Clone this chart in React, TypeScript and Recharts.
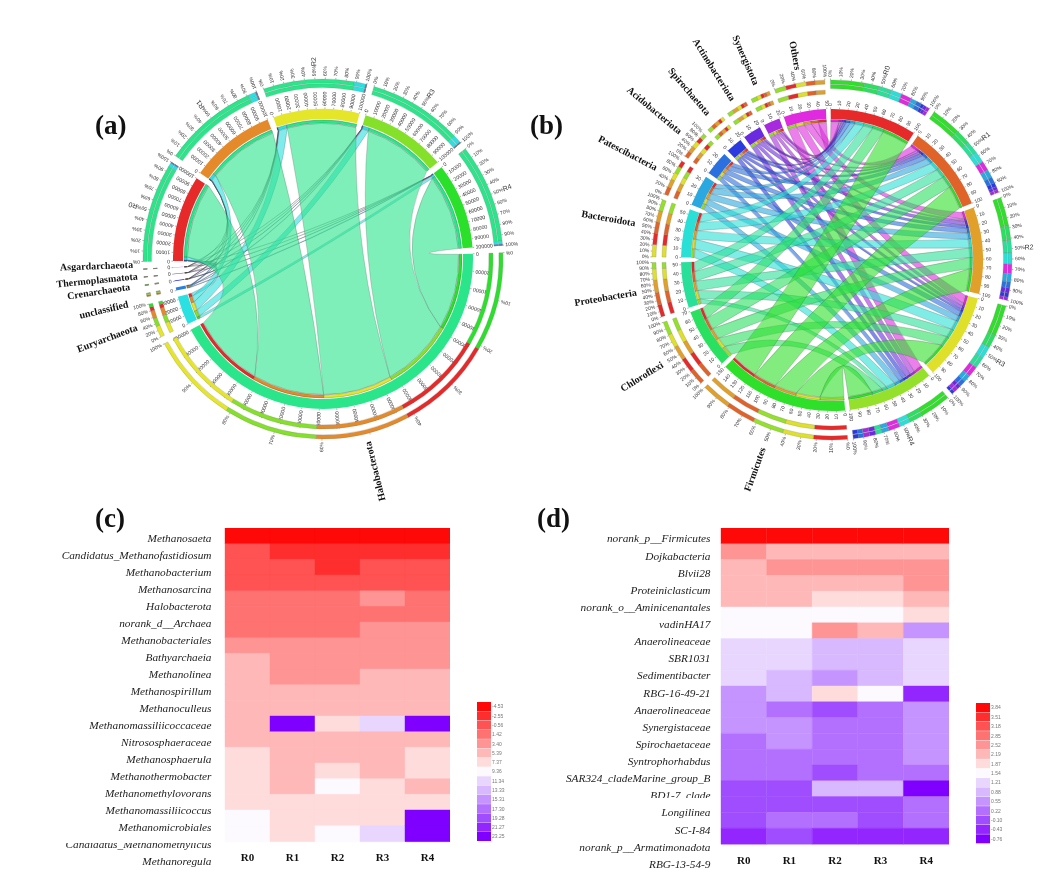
import React from 'react';
import { PieChart, Pie, Cell, BarChart, Bar, XAxis, YAxis } from 'recharts';

const samples = ['R0', 'R1', 'R2', 'R3', 'R4'];

// panel (a): archaeal phyla vs samples
const archaeaPhyla = ['Halobacterota', 'Euryarchaeota', 'unclassified', 'Crenarchaeota', 'Thermoplasmatota', 'Asgardarchaeota'];
const archaeaColors = ['#2ae58a', '#2ae0e0', '#2a7ee0', '#2a2ae0', '#8a2ae0', '#e02ae0'];
const archaeaSampleColors = ['#e62a2a', '#e58a2a', '#e5e52a', '#85e02a', '#2ae02a'];
const archaeaR0 = [94980, 4000, 700, 200, 80, 40];
const archaeaR1 = [91380, 7500, 800, 200, 80, 40];
const archaeaR2 = [87980, 11000, 700, 200, 80, 40];
const archaeaR3 = [90980, 8000, 700, 200, 80, 40];
const archaeaR4 = [95980, 3000, 700, 200, 80, 40];
const archaeaNameAngles = [76, 159.6, 166.7, 171.5, 174.4, 178];
const archaeaNameRadii = [188, 198, 200, 195, 186, 190];

// panel (b): bacterial phyla vs samples
const bacteriaPhyla = ['Firmicutes', 'Chloroflexi', 'Proteobacteria', 'Bacteroidota', 'Patescibacteria', 'Acidobacteriota', 'Spirochaetota', 'Actinobacteriota', 'Synergistota', 'Others'];
const bacteriaColors = ['#2fe02a', '#2ae060', '#2adf9a', '#2adfd5', '#2aa8df', '#2a70df', '#2a3adf', '#6a2adf', '#a82adf', '#df2adf'];
const bacteriaSampleColors = ['#e62a2a', '#e0642a', '#e0a02a', '#dfe02a', '#95e02a'];
const bacteriaR0 = [33, 14, 12, 11, 6, 5, 3, 3, 3, 10];
const bacteriaR1 = [29, 15, 12, 11, 8, 6, 4, 3, 3, 9];
const bacteriaR2 = [28, 14, 12, 11, 8, 6, 4, 5, 3, 9];
const bacteriaR3 = [30, 13, 11, 12, 7, 6, 3, 4, 4, 10];
const bacteriaR4 = [30, 13, 6, 11, 7, 5, 5, 6, 6, 11];
const bacteriaNameRadii = [200, 199, 198, 200, 198, 198, 191, 188, 191, 193];

// panels (c) and (d): heatmaps
const levelColors = ['#ff0808', '#ff2e2e', '#ff5252', '#ff7272', '#ff9494', '#ffb8b8', '#ffdcdc', '#fcfaff', '#e8d6ff', '#d8b8ff', '#c594ff', '#b370ff', '#a04dff', '#9326ff', '#7f00ff'];
const methanogenLegend = [-4.53, -2.55, -0.56, 1.42, 3.4, 5.39, 7.37, 9.36, 11.34, 13.33, 15.31, 17.3, 19.28, 21.27, 23.25];
const methanogenNames = ['Methanosaeta', 'Candidatus_Methanofastidiosum', 'Methanobacterium', 'Methanosarcina', 'Halobacterota', 'norank_d__Archaea', 'Methanobacteriales', 'Bathyarchaeia', 'Methanolinea', 'Methanospirillum', 'Methanoculleus', 'Methanomassiliicoccaceae', 'Nitrososphaeraceae', 'Methanosphaerula', 'Methanothermobacter', 'Methanomethylovorans', 'Methanomassiliicoccus', 'Methanomicrobiales', 'Candidatus_Methanomethylicus', 'Methanoregula'];
const methanogenValues = [
  [-4.53, -4.53, -4.53, -4.53, -4.53],
  [-0.56, -2.55, -2.55, -2.55, -2.55],
  [-0.56, -0.56, -2.55, -0.56, -0.56],
  [-0.56, -0.56, -0.56, -0.56, -0.56],
  [1.42, 1.42, 1.42, 3.4, 1.42],
  [1.42, 1.42, 1.42, 1.42, 1.42],
  [1.42, 1.42, 1.42, 3.4, 3.4],
  [3.4, 3.4, 3.4, 3.4, 3.4],
  [5.39, 3.4, 3.4, 3.4, 3.4],
  [5.39, 3.4, 3.4, 5.39, 5.39],
  [5.39, 5.39, 5.39, 5.39, 5.39],
  [5.39, 5.39, 5.39, 5.39, 5.39],
  [5.39, 23.25, 7.37, 11.34, 23.25],
  [5.39, 5.39, 5.39, 5.39, 5.39],
  [7.37, 5.39, 5.39, 5.39, 7.37],
  [7.37, 5.39, 7.37, 5.39, 7.37],
  [7.37, 5.39, 9.36, 7.37, 5.39],
  [7.37, 7.37, 7.37, 7.37, 7.37],
  [9.36, 7.37, 7.37, 7.37, 23.25],
  [9.36, 7.37, 9.36, 11.34, 23.25],
];
const bacteriaLegend = [3.84, 3.51, 3.18, 2.85, 2.52, 2.19, 1.87, 1.54, 1.21, 0.88, 0.55, 0.22, -0.1, -0.43, -0.76];
const bacteriaNames = ['norank_p__Firmicutes', 'Dojkabacteria', 'Blvii28', 'Proteiniclasticum', 'norank_o__Aminicenantales', 'vadinHA17', 'Anaerolineaceae', 'SBR1031', 'Sedimentibacter', 'RBG-16-49-21', 'Anaerolineaceae', 'Synergistaceae', 'Spirochaetaceae', 'Syntrophorhabdus', 'SAR324_cladeMarine_group_B', 'BD1-7_clade', 'Longilinea', 'SC-I-84', 'norank_p__Armatimonadota', 'RBG-13-54-9'];
const bacteriaValues = [
  [3.84, 3.84, 3.84, 3.84, 3.84],
  [2.52, 2.19, 2.19, 2.19, 2.19],
  [2.19, 2.52, 2.52, 2.52, 2.52],
  [2.19, 2.19, 2.19, 2.19, 2.52],
  [2.19, 2.19, 1.87, 1.87, 2.19],
  [1.54, 1.54, 1.54, 1.54, 1.87],
  [1.54, 1.54, 2.52, 2.19, 0.55],
  [1.21, 1.21, 0.88, 0.88, 1.21],
  [1.21, 1.21, 0.88, 0.88, 1.21],
  [1.21, 0.88, 0.55, 0.88, 1.21],
  [0.55, 0.88, 1.87, 1.54, -0.43],
  [0.55, 0.22, -0.1, 0.22, 0.55],
  [0.55, 0.55, 0.22, 0.22, 0.55],
  [0.22, 0.55, 0.22, 0.22, 0.55],
  [0.22, 0.22, 0.22, 0.22, 0.55],
  [0.22, 0.22, -0.1, 0.22, 0.22],
  [-0.1, -0.1, 0.88, 0.88, -0.76],
  [-0.1, -0.1, -0.1, -0.1, 0.22],
  [-0.1, 0.22, 0.22, -0.1, 0.22],
  [-0.43, -0.1, -0.43, -0.43, -0.43],
];

const SERIF = '"Liberation Serif", serif';
const SANS = '"Liberation Sans", sans-serif';

const sum = (xs: number[]) => xs.reduce((a, b) => a + b, 0);
const rad = (deg: number) => (deg * Math.PI) / 180;

interface Sector {
  name: string;
  kind: 'phylum' | 'sample';
  index: number;
  color: string;
  total: number;
  start: number;
  end: number;
}

interface Flow {
  color: string;
  sampleStart: number;
  sampleEnd: number;
  phylumStart: number;
  phylumEnd: number;
  value: number;
}

// angles are screen degrees, clockwise from 3 o'clock
function buildChord(phyla: string[], colors: string[], sampleColors: string[], rows: number[][], gap: number, startAngle: number) {
  const phylumTotals = phyla.map((_, j) => sum(rows.map((r) => r[j])));
  const sampleTotals = rows.map(sum);
  const perUnit = (360 - gap * (phyla.length + samples.length)) / (sum(phylumTotals) + sum(sampleTotals));
  const sectors: Sector[] = [];
  let cursor = startAngle;
  phyla.forEach((name, j) => {
    const end = cursor + phylumTotals[j] * perUnit;
    sectors.push({ name, kind: 'phylum', index: j, color: colors[j], total: phylumTotals[j], start: cursor, end });
    cursor = end + gap;
  });
  samples.forEach((name, i) => {
    const end = cursor + sampleTotals[i] * perUnit;
    sectors.push({ name, kind: 'sample', index: i, color: sampleColors[i], total: sampleTotals[i], start: cursor, end });
    cursor = end + gap;
  });

  // inside a sample: last phylum first. inside a phylum: last sample first.
  const flows: Flow[] = [];
  const sampleCursor = sectors.filter((s) => s.kind === 'sample').map((s) => s.start);
  const samplePos: number[][] = rows.map((r, i) => {
    const pos: number[] = [];
    for (let j = phyla.length - 1; j >= 0; j--) {
      pos[j] = sampleCursor[i];
      sampleCursor[i] += r[j] * perUnit;
    }
    return pos;
  });
  phyla.forEach((_, j) => {
    let c = sectors[j].start;
    for (let i = samples.length - 1; i >= 0; i--) {
      const w = rows[i][j] * perUnit;
      flows.push({
        color: colors[j],
        sampleStart: samplePos[i][j],
        sampleEnd: samplePos[i][j] + w,
        phylumStart: c,
        phylumEnd: c + w,
        value: rows[i][j],
      });
      c += w;
    }
  });
  // biggest phylum ends up on top
  flows.reverse();
  return { sectors, flows, perUnit };
}

const archaeaChord = buildChord(archaeaPhyla, archaeaColors, archaeaSampleColors, [archaeaR0, archaeaR1, archaeaR2, archaeaR3, archaeaR4], 2.4, -2);
const bacteriaChord = buildChord(bacteriaPhyla, bacteriaColors, bacteriaSampleColors, [bacteriaR0, bacteriaR1, bacteriaR2, bacteriaR3, bacteriaR4], 1.8, 85);

const ring = (key: string, start: number, end: number, inner: number, outer: number, cx: number, cy: number, items: { value: number; color: string }[], pad = 0, stroke = 'none') => (
  <Pie
    key={key}
    data={items}
    dataKey="value"
    cx={cx}
    cy={cy}
    startAngle={-start}
    endAngle={-end}
    innerRadius={inner}
    outerRadius={outer}
    paddingAngle={pad}
    stroke={stroke}
    strokeWidth={0.25}
    isAnimationActive={false}
  >
    {items.map((it, i) => (
      <Cell key={i} fill={it.color} />
    ))}
  </Pie>
);

function Ribbons({ flows, cx, cy, r }: { flows: Flow[]; cx: number; cy: number; r: number }) {
  const pt = (a: number) => `${(cx + r * Math.cos(rad(a))).toFixed(2)} ${(cy + r * Math.sin(rad(a))).toFixed(2)}`;
  // control point: part chord midpoint so long ribbons keep some width, part pull along the mid angle
  const ctrl = (a: number, b: number) => {
    let d = ((b - a) % 360 + 360) % 360;
    if (d > 180) d -= 360;
    const k = 0.34 * (1 - (d / 180) * (d / 180));
    const mid = rad(a + d / 2);
    const chordX = (Math.cos(rad(a)) + Math.cos(rad(b))) / 2;
    const chordY = (Math.sin(rad(a)) + Math.sin(rad(b))) / 2;
    const x = cx + r * (0.35 * chordX + 0.65 * k * Math.cos(mid));
    const y = cy + r * (0.35 * chordY + 0.65 * k * Math.sin(mid));
    return `${x.toFixed(2)} ${y.toFixed(2)}`;
  };
  return (
    <g>
      {flows.map((f, i) => (
        <path
          key={i}
          d={`M${pt(f.sampleStart)} A${r} ${r} 0 0 1 ${pt(f.sampleEnd)} Q${ctrl(f.sampleEnd, f.phylumStart)} ${pt(f.phylumStart)} A${r} ${r} 0 0 1 ${pt(f.phylumEnd)} Q${ctrl(f.phylumEnd, f.sampleStart)} ${pt(f.sampleStart)}Z`}
          fill={f.color}
          fillOpacity={0.6}
          stroke="#333"
          strokeOpacity={0.7}
          strokeWidth={0.3}
        />
      ))}
    </g>
  );
}

interface ScaleLabelsProps {
  sectors: Sector[];
  perUnit: number;
  cx: number;
  cy: number;
  mainOuter: number;
  step: (s: Sector) => number;
  fontSize: number;
}

function ScaleLabels({ sectors, perUnit, cx, cy, mainOuter, step, fontSize }: ScaleLabelsProps) {
  const out: React.ReactNode[] = [];
  const put = (key: string, theta: number, r: number, text: string, inward: boolean, size: number, suffix?: string) => {
    const x = cx + r * Math.cos(rad(theta));
    const y = cy + r * Math.sin(rad(theta));
    out.push(
      <text
        key={key}
        x={x}
        y={y}
        transform={`rotate(${inward ? theta + 180 : theta} ${x} ${y})`}
        textAnchor={inward ? 'end' : 'start'}
        dominantBaseline="middle"
        fontFamily={SANS}
        fontSize={size}
        fill="#333"
      >
        {text}
        {suffix ? <tspan fontSize={7}>{suffix}</tspan> : null}
      </text>
    );
  };
  const tick = (key: string, theta: number, r: number) => {
    const c = Math.cos(rad(theta));
    const s = Math.sin(rad(theta));
    out.push(<line key={key} x1={cx + r * c} y1={cy + r * s} x2={cx + (r + 1.6) * c} y2={cy + (r + 1.6) * s} stroke="#222" strokeWidth={0.35} />);
  };
  sectors.forEach((s) => {
    const inward = s.kind === 'phylum';
    const st = step(s);
    for (let v = 0; v <= s.total + st * 0.2; v += st) {
      const theta = s.start + v * perUnit;
      if (theta > s.end + 0.5) break;
      tick(`${s.name}-t${v}`, theta, mainOuter);
      put(`${s.name}-l${v}`, theta, mainOuter + 3, String(v), inward, fontSize);
    }
    const width = s.end - s.start;
    const pctStep = width >= 17.5 ? 10 : width >= 8 ? 20 : 0;
    if (!pctStep) return;
    for (let p = 0; p <= 100; p += pctStep) {
      const theta = s.start + (width * p) / 100;
      tick(`${s.name}-pt${p}`, theta, 180);
      // the very wide phylum has its name where the 50% label would go
      if (s.kind === 'phylum' && width > 100 && p === 50) continue;
      put(`${s.name}-p${p}`, theta, 183, `${p}%`, inward, 5, s.kind === 'sample' && p === 50 ? s.name : undefined);
    }
  });
  return <g>{out}</g>;
}

function PhylumNames({ sectors, cx, cy, radii, angles }: { sectors: Sector[]; cx: number; cy: number; radii: number[]; angles?: number[] }) {
  return (
    <g>
      {sectors
        .filter((s) => s.kind === 'phylum')
        .map((s, i) => {
          const theta = angles ? angles[i] : (s.start + s.end) / 2;
          const x = cx + radii[i] * Math.cos(rad(theta));
          const y = cy + radii[i] * Math.sin(rad(theta));
          return (
            <text
              key={s.name}
              x={x}
              y={y}
              transform={`rotate(${theta + 180} ${x} ${y})`}
              textAnchor="end"
              dominantBaseline="middle"
              fontFamily={SERIF}
              fontWeight="bold"
              fontSize={10}
              fill="#111"
            >
              {s.name}
            </text>
          );
        })}
    </g>
  );
}

interface ChordProps {
  chord: ReturnType<typeof buildChord>;
  rows: number[][];
  sampleColors: string[];
  phylumColors: string[];
  left: number;
  cx: number;
  cy: number;
  gap: number;
  startAngle: number;
  main: [number, number];
  lining: [number, number];
  step: (s: Sector) => number;
  fontSize: number;
  nameRadii: number[];
  nameAngles?: number[];
}

function ChordPanel({ chord, rows, sampleColors, phylumColors, left, cx, cy, gap, startAngle, main, lining, step, fontSize, nameRadii, nameAngles }: ChordProps) {
  const { sectors, flows, perUnit } = chord;
  const parts = (s: Sector) => {
    if (s.kind === 'phylum') return rows.map((r, i) => ({ value: r[s.index], color: sampleColors[i] }));
    return rows[s.index].map((v, j) => ({ value: v, color: phylumColors[j] }));
  };
  return (
    <div style={{ position: 'absolute', left, top: 0 }}>
      <PieChart width={530} height={510} margin={{ top: 0, right: 0, bottom: 0, left: 0 }}>
        <Ribbons flows={flows} cx={cx} cy={cy} r={lining[0] - 0.5} />
        {ring('main', startAngle, startAngle + 360, main[0], main[1], cx, cy, sectors.map((s) => ({ value: s.total, color: s.color })), gap)}
        {sectors.map((s) => ring(`lining-${s.name}`, s.start, s.end, lining[0], lining[1], cx, cy, [...parts(s)].reverse(), 0, '#333'))}
        {sectors.map((s) => {
          const sorted = [...parts(s)].sort((a, b) => b.value - a.value);
          const second: [number, number] = s.kind === 'phylum' ? [166, 170] : [171.5, 175.5];
          return (
            <React.Fragment key={s.name}>
              {ring(`outer-${s.name}`, s.start, s.end, 176, 180, cx, cy, sorted, 0, '#777')}
              {ring(`second-${s.name}`, s.start, s.end, second[0], second[1], cx, cy, sorted, 0, '#777')}
            </React.Fragment>
          );
        })}
        <ScaleLabels sectors={sectors} perUnit={perUnit} cx={cx} cy={cy} mainOuter={main[1]} step={step} fontSize={fontSize} />
        <PhylumNames sectors={sectors} cx={cx} cy={cy} radii={nameRadii} angles={nameAngles} />
      </PieChart>
    </div>
  );
}

interface HeatProps {
  names: string[];
  values: number[][];
  legend: number[];
  labelLeft: number;
  plotLeft: number;
  plotWidth: number;
  plotHeight: number;
  labelGap: number;
}

function colorOf(v: number, legend: number[]) {
  let best = 0;
  legend.forEach((l, i) => {
    if (Math.abs(l - v) < Math.abs(legend[best] - v)) best = i;
  });
  return levelColors[best];
}

function Heatmap({ names, values, legend, labelLeft, plotLeft, plotWidth, plotHeight, labelGap }: HeatProps) {
  const data = names.map((name, i) => ({ id: `${i}-${name}`, name, R0: 1, R1: 1, R2: 1, R3: 1, R4: 1 }));
  const rowLabel = (props: any) => {
    const row = props.index as number;
    return (
      <text
        x={plotLeft - labelLeft - labelGap}
        y={props.y + 3.9 + row * 1.33}
        textAnchor="end"
        dominantBaseline="middle"
        fontFamily={SERIF}
        fontStyle="italic"
        fontSize={11.3}
        fill="#222"
      >
        {names[row]}
      </text>
    );
  };
  return (
    <div style={{ position: 'absolute', left: labelLeft, top: 527.7 }}>
      <BarChart
        layout="vertical"
        width={plotLeft - labelLeft + plotWidth}
        height={plotHeight + 40}
        data={data}
        barCategoryGap={0}
        margin={{ top: 0, right: 0, bottom: 0, left: 0 }}
      >
        <XAxis
          type="number"
          domain={[0, 5]}
          ticks={[0.5, 1.5, 2.5, 3.5, 4.5]}
          tickFormatter={(v: number) => samples[Math.floor(v)]}
          axisLine={false}
          tickLine={false}
          height={40}
          tickMargin={6}
          tick={{ fontFamily: SERIF, fontWeight: 'bold', fontSize: 11, fill: '#111' }}
          interval={0}
        />
        <YAxis type="category" dataKey="id" width={plotLeft - labelLeft} axisLine={false} tickLine={false} interval={0} tick={rowLabel} />
        {samples.map((s, k) => (
          <Bar key={s} dataKey={s} stackId="heat" isAnimationActive={false}>
            {values.map((row, i) => (
              <Cell key={i} fill={colorOf(row[k], legend)} stroke={colorOf(row[k], legend)} strokeWidth={0.4} />
            ))}
          </Bar>
        ))}
      </BarChart>
    </div>
  );
}

function ColorKey({ legend, left, top, height }: { legend: number[]; left: number; top: number; height: number }) {
  const data = legend.map((v) => ({ label: v.toFixed(2), unit: 1 }));
  return (
    <div style={{ position: 'absolute', left, top }}>
      <BarChart layout="vertical" width={40} height={height} data={data} barCategoryGap={0} margin={{ top: 0, right: 0, bottom: 0, left: 0 }}>
        <XAxis type="number" domain={[0, 1]} hide />
        <YAxis
          type="category"
          dataKey="label"
          orientation="right"
          width={26}
          axisLine={false}
          tickLine={false}
          tickSize={0}
          tickMargin={1}
          interval={0}
          tick={{ fontFamily: SANS, fontSize: 5, fill: '#777' }}
        />
        <Bar dataKey="unit" isAnimationActive={false}>
          {legend.map((_, i) => (
            <Cell key={i} fill={levelColors[i]} />
          ))}
        </Bar>
      </BarChart>
    </div>
  );
}

const panelLetter = (text: string, left: number, top: number) => (
  <div style={{ position: 'absolute', left, top, fontFamily: SERIF, fontWeight: 'bold', fontSize: 27, lineHeight: '30px', color: '#111' }}>{text}</div>
);

// the row labels are cut by a white band in the scan
const labelBand = (left: number, top: number, width: number, height: number) => (
  <div style={{ position: 'absolute', left, top, width, height, background: '#fff' }} />
);

export default function App() {
  return (
    <div style={{ position: 'absolute', left: 0, top: 0, width: 1060, height: 880, overflow: 'hidden', background: '#fff', filter: 'blur(0.35px)' }}>
      <ChordPanel
        chord={archaeaChord}
        rows={[archaeaR0, archaeaR1, archaeaR2, archaeaR3, archaeaR4]}
        sampleColors={archaeaSampleColors}
        phylumColors={archaeaColors}
        left={0}
        cx={323}
        cy={259}
        gap={2.4}
        startAngle={-2}
        main={[140, 150]}
        lining={[136, 139]}
        step={(s) => (s.total > 200000 ? 20000 : s.total >= 30000 ? 10000 : 100000)}
        fontSize={5.2}
        nameRadii={archaeaNameRadii}
        nameAngles={archaeaNameAngles}
      />
      <ChordPanel
        chord={bacteriaChord}
        rows={[bacteriaR0, bacteriaR1, bacteriaR2, bacteriaR3, bacteriaR4]}
        sampleColors={bacteriaSampleColors}
        phylumColors={bacteriaColors}
        left={530}
        cx={302}
        cy={260}
        gap={1.8}
        startAngle={85}
        main={[141, 151]}
        lining={[138, 140.5]}
        step={() => 10}
        fontSize={5}
        nameRadii={bacteriaNameRadii}
      />
      <Heatmap names={methanogenNames} values={methanogenValues} legend={methanogenLegend} labelLeft={50} plotLeft={225} plotWidth={225} plotHeight={313.3} labelGap={13.5} />
      <Heatmap names={bacteriaNames} values={bacteriaValues} legend={bacteriaLegend} labelLeft={530} plotLeft={721} plotWidth={228} plotHeight={316} labelGap={10.5} />
      {labelBand(50, 797.5, 170, 4)}
      {labelBand(50, 838, 170, 5.2)}
      {labelBand(535, 797.5, 180, 4)}
      {labelBand(535, 838, 180, 5.2)}
      <ColorKey legend={methanogenLegend} left={476.7} top={701.7} height={139.3} />
      <ColorKey legend={bacteriaLegend} left={976} top={703.3} height={140.7} />
      {panelLetter('(a)', 95, 110)}
      {panelLetter('(b)', 530, 110)}
      {panelLetter('(c)', 95, 503)}
      {panelLetter('(d)', 537, 503)}
    </div>
  );
}
